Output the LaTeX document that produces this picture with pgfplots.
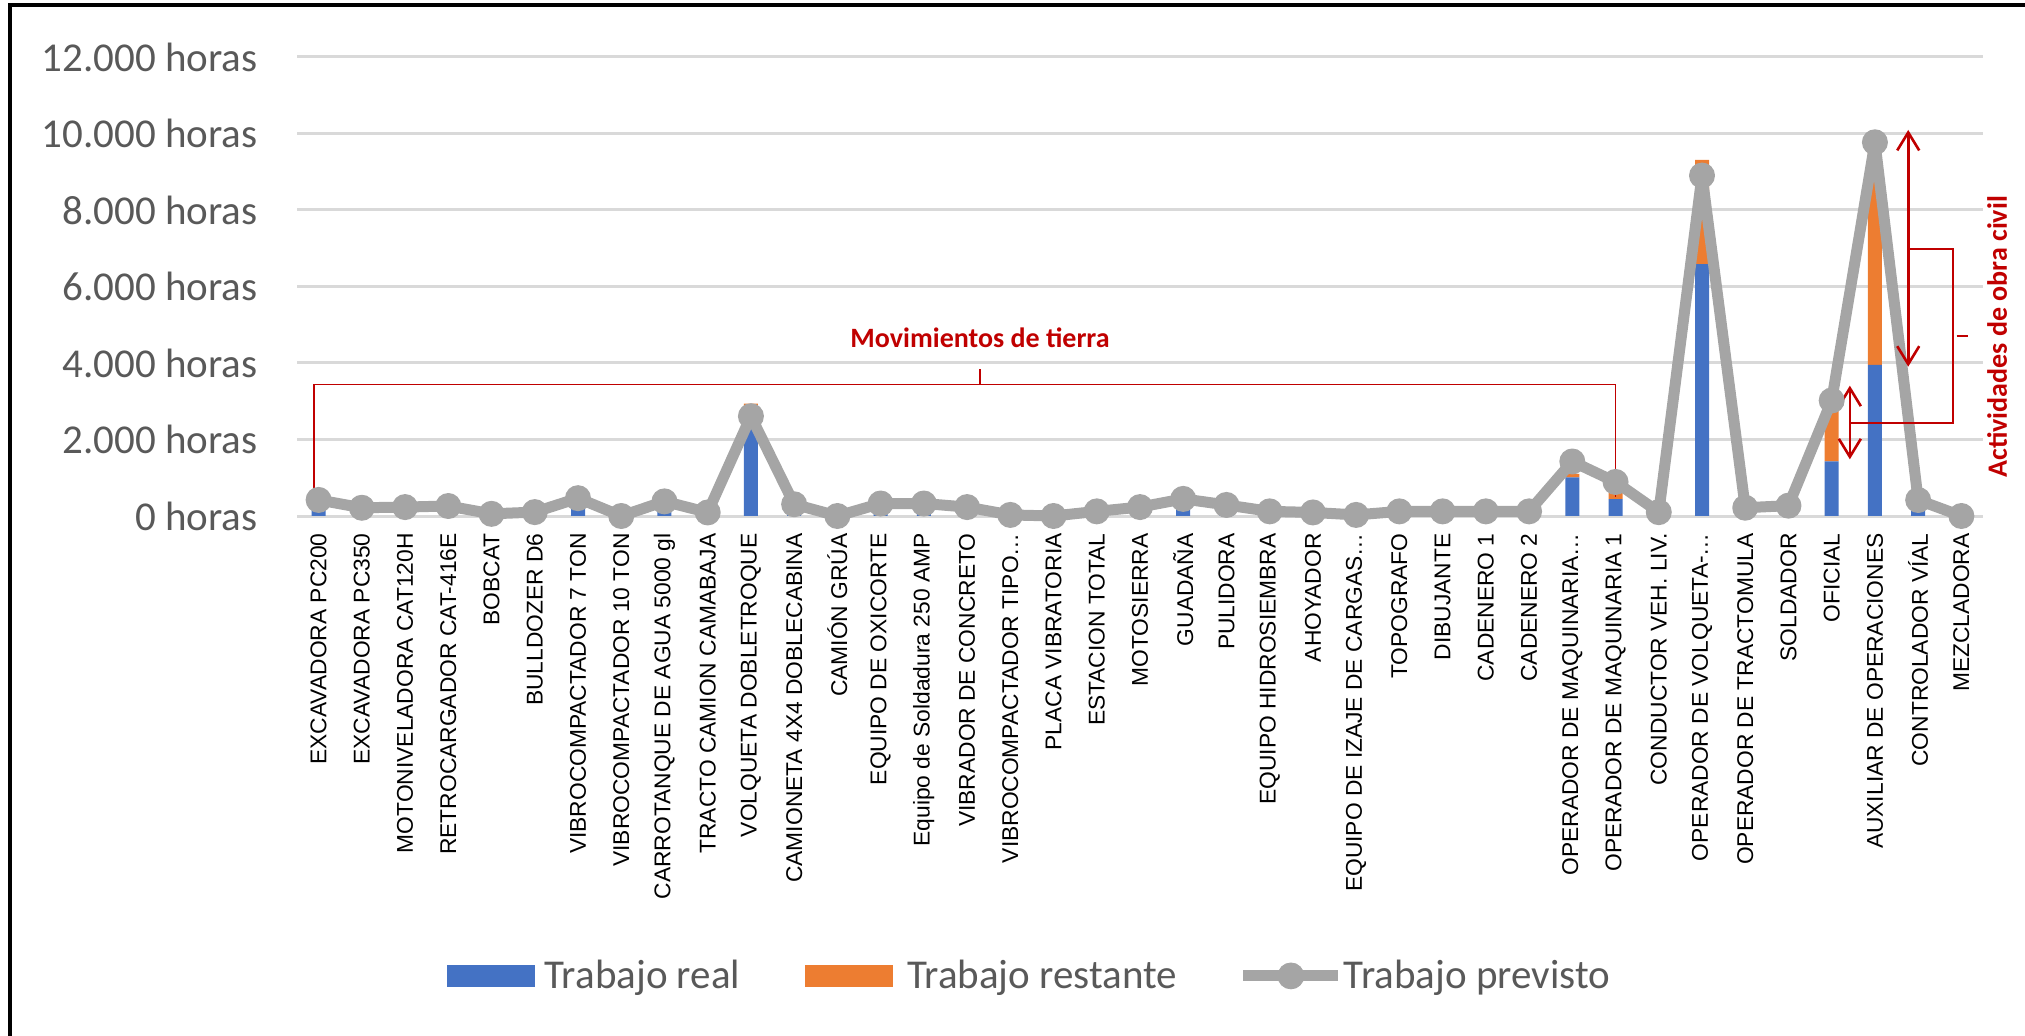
\documentclass[border=0pt]{standalone}
\usepackage{pgfplots}
\pgfplotsset{compat=1.18}
\usepackage{pgfplotstable}
\usepackage{fontspec}
\setmainfont{Carlito}
\newfontfamily\arialfont{Liberation Sans}
\usetikzlibrary{arrows.meta}
\definecolor{cblue}{HTML}{4472C4}
\definecolor{corange}{HTML}{ED7D31}
\definecolor{cgray}{HTML}{A5A5A5}
\definecolor{cgrid}{HTML}{D9D9D9}
\definecolor{ctext}{HTML}{595959}
\definecolor{cred}{HTML}{C00000}

\pgfplotstableread{
x real rest prev
0 420 0 420
1 215 0 215
2 233 0 233
3 261 0 261
4 56 0 56
5 102 0 102
6 466 0 466
7 0 0 0
8 382 0 382
9 93 0 93
10 2870 70 2609
11 307 0 307
12 0 0 0
13 326 0 326
14 326 0 326
15 233 0 233
16 28 0 28
17 0 0 0
18 121 0 121
19 233 0 233
20 447 0 447
21 289 0 289
22 121 0 121
23 93 0 93
24 28 0 28
25 121 0 121
26 121 0 121
27 121 0 121
28 121 0 121
29 1010 90 1425
30 440 170 890
31 100 0 100
32 6585 2725 8900
33 216 0 216
34 270 0 270
35 1430 1570 3020
36 3950 5750 9770
37 418 0 418
38 0 0 0
}\datatable

\tikzset{prevline/.style={cgray, line width=5.5bp, line join=round, mark=*, mark size=6bp,
  mark options={fill=cgray, draw=cgray, line width=1bp}}}

\begin{document}
\begin{tikzpicture}
\pgfplotsset{
  base/.style={
    scale only axis, width=843bp, height=229.5bp,
    at={(148.5bp,260bp)}, anchor=south west,
    xmin=-0.5, xmax=38.5, ymin=0, ymax=12000,
  }
}
\begin{axis}[base, ybar stacked, bar width=7bp,
  scaled y ticks=false,
  ymajorgrids, grid style={cgrid, line width=1.5bp},
  axis line style={draw=none},
  major tick length=0pt,
  ytick={0,2000,4000,6000,8000,10000,12000},
  yticklabels={0 horas,2.000 horas,4.000 horas,6.000 horas,8.000 horas,10.000 horas,12.000 horas},
  yticklabel style={font=\fontsize{20.5bp}{24bp}\selectfont, text=ctext, anchor=east, inner sep=0pt},
  yticklabel shift=19.5bp,
  xtick={0,...,38},
  xticklabels={EXCAVADORA PC200,EXCAVADORA PC350,MOTONIVELADORA CAT120H,RETROCARGADOR CAT-416E,BOBCAT,BULLDOZER D6,VIBROCOMPACTADOR 7 TON,VIBROCOMPACTADOR 10 TON,CARROTANQUE DE AGUA 5000 gl,TRACTO CAMION CAMABAJA,VOLQUETA DOBLETROQUE,CAMIONETA 4X4 DOBLECABINA,CAMIÓN GRÚA,EQUIPO DE OXICORTE,Equipo de Soldadura 250 AMP,VIBRADOR DE CONCRETO,VIBROCOMPACTADOR TIPO…,PLACA VIBRATORIA,ESTACION TOTAL,MOTOSIERRA,GUADAÑA,PULIDORA,EQUIPO HIDROSIEMBRA,AHOYADOR,EQUIPO DE IZAJE DE CARGAS…,TOPOGRAFO,DIBUJANTE,CADENERO 1,CADENERO 2,OPERADOR DE MAQUINARIA…,OPERADOR DE MAQUINARIA 1,CONDUCTOR VEH. LIV.,OPERADOR DE VOLQUETA-…,OPERADOR DE TRACTOMULA,SOLDADOR,OFICIAL,AUXILIAR DE OPERACIONES,CONTROLADOR VÍAL,MEZCLADORA},
  xticklabel style={font=\arialfont\fontsize{11.4bp}{13bp}\selectfont, text=black, rotate=90, anchor=east, inner sep=0pt},
  xticklabel shift=8.5bp,
  legend columns=3,
  legend style={draw=none, fill=none, at={(0.4338,-1.002)}, anchor=center,
    font=\fontsize{20.5bp}{24bp}\selectfont, text=ctext, column sep=0pt,
    nodes={inner sep=0pt}},
]
\addplot[fill=cblue, draw=none,
  legend image code/.code={\path (0bp,0) (49bp,0); \fill[cblue] (0bp,-5.5bp) rectangle (44bp,5.5bp);}]
  table[x=x, y=real]{\datatable};
\addlegendentry{Trabajo real}
\addplot[fill=corange, draw=none,
  legend image code/.code={\path (-32.5bp,0) (51bp,0); \fill[corange] (0bp,-5.5bp) rectangle (44bp,5.5bp);}]
  table[x=x, y=rest]{\datatable};
\addlegendentry{Trabajo restante}
\addlegendimage{legend image code/.code={\path (-33bp,0) (50bp,0); \draw[cgray, line width=5.5bp] (0bp,0) -- (47.5bp,0); \fill[cgray] (23.75bp,0) circle (6.5bp);}}
\addlegendentry{Trabajo previsto}
\end{axis}

\begin{axis}[base, hide axis, clip=false]
\addplot[prevline] table[x=x, y=prev]{\datatable};

\draw[cred, line width=0.7bp] (axis cs:-0.11,490) -- (axis cs:-0.11,3430) -- (axis cs:30,3430) -- (axis cs:30,500);
\draw[cred, line width=0.7bp] (axis cs:15.3,3430) -- (axis cs:15.3,3830);
\node[cred, font=\bfseries\fontsize{14bp}{16bp}\selectfont, anchor=base, inner sep=0pt] at (axis cs:15.3,4407) {Movimientos de tierra};

\draw[cred, line width=1.3bp, {Straight Barb[length=9bp,width=11bp]}-{Straight Barb[length=9bp,width=11bp]}] (axis cs:36.77,10093) -- (axis cs:36.77,3904);
\draw[cred, line width=1.3bp, {Straight Barb[length=9bp,width=11bp]}-{Straight Barb[length=9bp,width=11bp]}] (axis cs:35.42,3407) -- (axis cs:35.42,1482);
\draw[cred, line width=0.8bp] (axis cs:36.77,6973) -- (axis cs:37.81,6973) -- (axis cs:37.81,2424) -- (axis cs:35.42,2424);
\draw[cred, line width=0.8bp] (axis cs:37.89,4706) -- (axis cs:38.16,4706);
\node[cred, font=\bfseries\fontsize{14bp}{16bp}\selectfont, rotate=90, anchor=base, inner sep=0pt] at (axis cs:39.05,4688) {Actividades de obra civil};
\end{axis}

\draw[black, line width=2bp] (5bp,-2bp) -- (5bp,515.5bp) -- (1015bp,515.5bp);
\pgfresetboundingbox
\useasboundingbox (0,0) rectangle (1012.5bp,518bp);
\end{tikzpicture}
\end{document}
